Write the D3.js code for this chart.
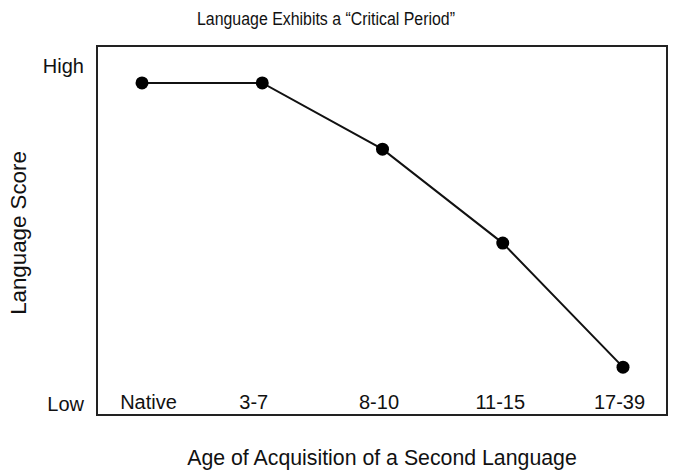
<!DOCTYPE html>
<html><head><meta charset="utf-8">
<script src="https://cdn.jsdelivr.net/npm/d3@7"></script>
<style>
body{margin:0;background:#fff;}
text{font-family:"Liberation Sans",Arial,Helvetica,sans-serif;fill:#111;}
</style></head>
<body>
<svg id="chart" width="674" height="473"></svg>
<script>
const categories = ["Native", "3-7", "8-10", "11-15", "17-39"];
const scores = [95, 95, 75.4, 47.6, 10.9];
const yTickLabels = ["Low", "High"];
const title = "Language Exhibits a \u201cCritical Period\u201d";
const xTitle = "Age of Acquisition of a Second Language";
const yTitle = "Language Score";

const svg = d3.select("#chart");
const frame = {left: 97, top: 46, right: 667, bottom: 415};

const x = d3.scalePoint().domain(categories).range([142, 623]);
const y = d3.scaleLinear().domain([0, 100]).range([404, 66]);

// frame
svg.append("rect")
  .attr("x", frame.left).attr("y", frame.top)
  .attr("width", frame.right - frame.left).attr("height", frame.bottom - frame.top)
  .attr("fill", "none").attr("stroke", "#222").attr("stroke-width", 2);

// title
svg.append("text").attr("x", 326).attr("y", 25).attr("text-anchor", "middle")
  .attr("font-size", 17.5).attr("textLength", 258).attr("lengthAdjust", "spacingAndGlyphs")
  .text(title);

// x tick labels (inside the frame, near bottom)
const xAxis = d3.axisBottom(x).tickSize(0).tickPadding(0);
const gx = svg.append("g").attr("transform", `translate(0,${395})`).call(xAxis);
gx.select(".domain").remove();
gx.selectAll("text").attr("font-size", 20).attr("fill", "#111")
  .attr("font-family", "Liberation Sans, Arial, sans-serif")
  .attr("dx", (d, i) => [6, -9, -4, -3, -4][i]);

// y tick labels
const yAxis = d3.axisLeft(y).tickValues([0, 100]).tickFormat((d, i) => yTickLabels[i]).tickSize(0).tickPadding(0);
const gy = svg.append("g").attr("transform", `translate(${frame.left - 13},0)`).call(yAxis);
gy.select(".domain").remove();
gy.selectAll("text").attr("font-size", 20).attr("fill", "#111")
  .attr("font-family", "Liberation Sans, Arial, sans-serif");

// axis titles
svg.append("text").attr("x", 382).attr("y", 465).attr("text-anchor", "middle")
  .attr("font-size", 21.3).text(xTitle);
svg.append("text").attr("transform", "translate(26,233) rotate(-90)").attr("text-anchor", "middle")
  .attr("font-size", 22.3).text(yTitle);

// line
const data = categories.map((c, i) => ({c, v: scores[i]}));
svg.append("path").datum(data)
  .attr("d", d3.line().x(d => x(d.c)).y(d => y(d.v)))
  .attr("fill", "none").attr("stroke", "#111").attr("stroke-width", 2);

svg.selectAll("circle.pt").data(data).join("circle")
  .attr("class", "pt")
  .attr("cx", d => x(d.c)).attr("cy", d => y(d.v)).attr("r", 6.5)
  .attr("fill", "#000");
</script>
</body></html>
